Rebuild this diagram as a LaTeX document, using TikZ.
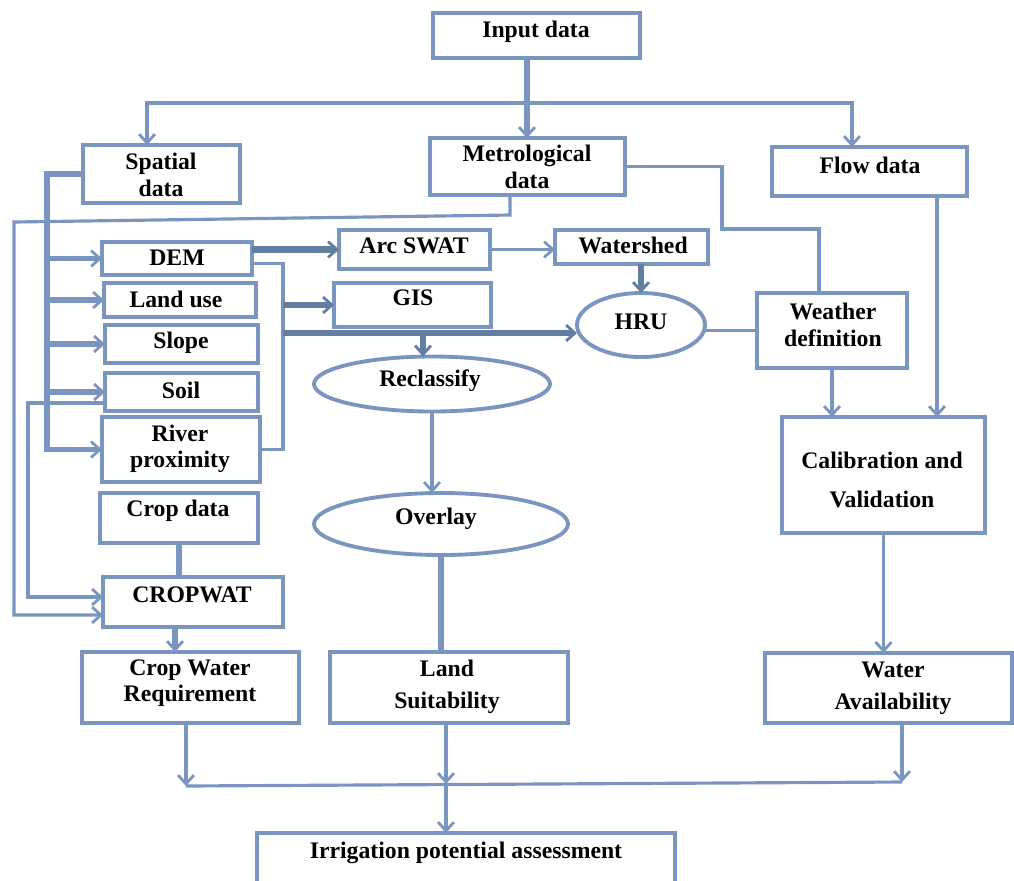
\documentclass[tikz,border=0pt]{standalone}
\usepackage{fontspec}
\setmainfont{Liberation Serif}
\usetikzlibrary{shapes.geometric,arrows.meta}
\definecolor{bc}{RGB}{122,150,192}
\definecolor{dc}{RGB}{98,126,162}
\newcommand\bx[5]{\node[box, minimum width={(#4-#2)*0.02cm}, minimum height={(#5-#3)*0.02cm}] (#1) at ({(#2+#4)/2},{(#3+#5)/2}) {};}
\newcommand\el[5]{\node[ell, minimum width={#4*0.02cm}, minimum height={#5*0.02cm}] (#1) at (#2,#3) {};}
\begin{document}
\begin{tikzpicture}[x=0.02cm,y=-0.02cm,
  box/.style={draw=bc,line width=2.4pt,rectangle,inner sep=0pt,outer sep=0pt,fill=white},
  ell/.style={draw=bc,line width=2.2pt,ellipse,inner sep=0pt,outer sep=0pt,fill=white},
  txt/.style={font=\bfseries\fontsize{13.5}{15}\selectfont,align=center,inner sep=0pt,text=black},
  ln/.style={draw=bc,line width=1.8pt},
  tk/.style={draw=bc,line width=3pt},
  dk/.style={draw=dc,line width=3.6pt},
  tip/.style={-{Straight Barb[length=5pt,width=9pt,line width=1.6pt]}},
  tips/.style={{Straight Barb[length=5pt,width=9pt,line width=1.6pt]}-{Straight Barb[length=5pt,width=9pt,line width=1.6pt]}}]
\useasboundingbox (0,0) rectangle (1014,880);
\fill[white] (0,0) rectangle (1014,880);
\clip (0,0) rectangle (1014,880);
% boxes
\bx{input}{433}{13}{640}{58}
\bx{spatial}{83}{145}{240}{203}
\bx{meteo}{430}{138}{625}{195}
\bx{flow}{772}{147}{967}{196}
\bx{dem}{102}{242}{252}{275}
\bx{landuse}{104}{283}{256}{317}
\bx{slope}{105}{325}{258}{363}
\bx{soil}{105}{373}{258}{411}
\bx{river}{102}{417}{260}{482}
\bx{cropdata}{100}{493}{258}{543}
\bx{cropwat}{103}{577}{283}{627}
\bx{arcswat}{339}{230}{490}{269}
\bx{gis}{334}{283}{491}{327}
\bx{watershed}{555}{230}{708}{264}
\bx{weather}{757}{293}{907}{368}
\bx{calib}{782}{417}{985}{533}
\bx{cwr}{82}{652}{299}{723}
\bx{ls}{330}{652}{568}{723}
\bx{wa}{765}{653}{1012}{723}
\bx{irr}{257}{833}{675}{910}
\el{hru}{641}{325}{128}{64}
\el{reclass}{432}{384}{236}{55}
\el{overlay}{441}{524}{254}{62}
% coordinates
\coordinate (hb) at (527,103);
\coordinate (hbL) at (147,103);
\coordinate (hbR) at (852,103);
\coordinate (sx) at (47,0);
\coordinate (mb) at (510,215);
\coordinate (ml) at (14,222);
\coordinate (sl) at (28,0);
\coordinate (c1) at (722,229);
\coordinate (wx) at (819,0);
\coordinate (bx) at (283,0);
\coordinate (hl) at (283,333);
\coordinate (rc) at (423,333);
\coordinate (fx) at (937,0);
\coordinate (cwx) at (175,0);
\coordinate (b1) at (186,786);
\coordinate (bm) at (446,784);
\coordinate (b3) at (902,782);
\coordinate (cwA) at ([yshift=0.1cm]cropwat.west);
\coordinate (cwB) at ([yshift=-0.26cm]cropwat.west);
\coordinate (soilp) at ([yshift=-0.22cm]soil.west);
% connectors
\draw[tk,tip] (hb -| input.south) ++(0,0) (input.south -| hb) -- (meteo.north -| hb);
\draw[ln,tips] (hbL |- spatial.north) -- (hbL) -- (hbR) -- (hbR |- flow.north);
\draw[tk,tip] (spatial.west) -- (spatial.west -| sx) -- (sx |- river.west) -- (river.west);
\draw[tk,tip] (sx |- dem.west) -- (dem.west);
\draw[tk,tip] (sx |- landuse.west) -- (landuse.west);
\draw[tk,tip] (sx |- slope.west) -- (slope.west);
\draw[tk,tip] (sx |- soil.west) -- (soil.west);
\draw[ln,tip] (meteo.south -| mb) -- (mb) -- (ml) -- (ml |- cwB) -- (cwB);
\draw[ln,tip] (soilp) -- (soilp -| sl) -- (sl |- cwA) -- (cwA);
\draw[ln] (meteo.east) -| (c1) -| (wx |- weather.north);
\draw[dk,tip] (dem.east |- arcswat.west) -- (arcswat.west);
\draw[ln] ([yshift=-0.1cm]dem.east) -| (bx |- river.east) -- (river.east);
\draw[dk,tip] (bx |- gis.west) -- (gis.west);
\draw[dk,tip] (hl) -- (hl -| hru.west);
\draw[dk,tip] (rc) -- (rc |- reclass.north);
\draw[ln,tip] (arcswat.east) -- (arcswat.east -| watershed.west);
\draw[dk,tip] (hru.north |- watershed.south) -- (hru.north);
\draw[ln] (hru.east |- weather.west) -- (weather.west);
\draw[ln,tip] (weather.south) -- (weather.south |- calib.north);
\draw[ln,tip] (fx |- flow.south) -- (fx |- calib.north);
\draw[ln,tip] (calib.south) -- (calib.south |- wa.north);
\draw[ln,tip] (reclass.south) -- (reclass.south |- overlay.north);
\draw[tk] (overlay.south) -- (overlay.south |- ls.north);
\draw[tk] (cropdata.south) -- (cropdata.south |- cropwat.north);
\draw[tk,tip] (cwx |- cropwat.south) -- (cwx |- cwr.north);
\draw[ln,tip] (b1 |- cwr.south) -- (b1);
\draw[ln,tip] (bm |- ls.south) -- (bm);
\draw[ln,tip] (b3 |- wa.south) -- (b3);
\draw[ln] (b1) -- (b3);
\draw[ln,tip] (bm) -- (bm |- irr.north);
% texts
\node[txt] (tinput) at (536,32) {Input data};
\node[txt] (tspatial) at (161,175) {Spatial\\data};
\node[txt] (tmeteo) at (527,167) {Metrological\\data};
\node[txt] (tflow) at (870,165) {Flow data};
\node[txt] (tdem) at (177,258) {DEM};
\node[txt] (tland) at (176,299) {Land use};
\node[txt] (tslope) at (181,343) {Slope};
\node[txt] (tsoil) at (181,390) {Soil};
\node[txt] (triver) at (180,449) {River\\proximity};
\node[txt] (tcrop) at (178,511) {Crop data};
\node[txt] (tcropwat) at (192,595) {CROPWAT};
\node[txt] (tarc) at (414,246) {Arc SWAT};
\node[txt] (tgis) at (413,298) {GIS};
\node[txt] (tws) at (633,245) {Watershed};
\node[txt] (thru) at (641,322) {HRU};
\node[txt] (tweather) at (833,325) {Weather\\definition};
\node[txt] (trec) at (430,381) {Reclassify};
\node[txt] (tov) at (436,519) {Overlay};
\node[txt] (tcal) at (882,480) {Calibration and\\[7.5pt]Validation};
\node[txt] (tcwr) at (190,683) {Crop Water\\Requirement};
\node[txt] (tls) at (447,687) {Land\\[3pt]Suitability};
\node[txt] (twa) at (893,688) {Water\\[3pt]Availability};
\node[txt] (tirr) at (466,853) {Irrigation potential assessment};
\end{tikzpicture}
\end{document}
